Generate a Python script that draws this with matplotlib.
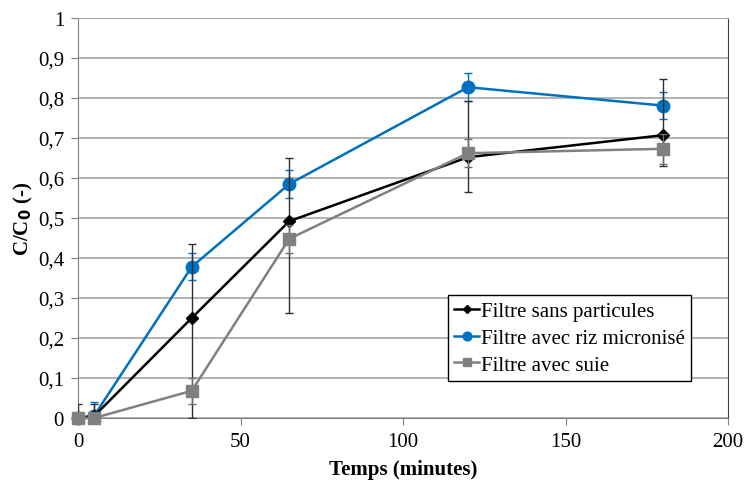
import matplotlib
matplotlib.use("Agg")
import matplotlib.pyplot as plt
from matplotlib.ticker import FuncFormatter

plt.rcParams['font.family'] = ['Liberation Serif', 'DejaVu Serif']

time = [0, 5, 35, 65, 120, 180]
sans = [0, 0.005, 0.25, 0.492, 0.652, 0.707]
sans_err_low = [0, 0, 0.25, 0.23, 0.086, 0.077]
sans_err_up = [0.035, 0.03, 0.185, 0.157, 0.14, 0.14]
riz = [0, 0.006, 0.378, 0.585, 0.827, 0.781]
riz_err = [0, 0.035, 0.034, 0.035, 0.035, 0.034]
suie = [0, 0, 0.068, 0.448, 0.662, 0.673]
suie_err = [0, 0, 0.033, 0.035, 0.035, 0.037]

labels = ["Filtre sans particules", "Filtre avec riz micronisé", "Filtre avec suie"]

fig = plt.figure(figsize=(7.48, 4.81), dpi=100)
ax = fig.add_axes([78/748, 1-419/481, 650/748, 400/481])

e1 = ax.errorbar(time, sans, yerr=[sans_err_low, sans_err_up], color='black', marker='D',
                 markersize=6, linewidth=1.8, ecolor='#303030', elinewidth=1.0, capsize=3,
                 capthick=1.0, zorder=4)
e2 = ax.errorbar(time, riz, yerr=riz_err, color='#0070C0', marker='o',
                 markersize=9, linewidth=1.8, ecolor='#0070C0', elinewidth=1.0, capsize=3,
                 capthick=1.0, zorder=3)
e3 = ax.errorbar(time, suie, yerr=suie_err, color='#808080', marker='s',
                 markersize=9, linewidth=1.8, ecolor='#707070', elinewidth=1.0, capsize=3,
                 capthick=1.0, zorder=5)
for e in (e1, e2, e3):
    e[0].set_clip_on(False)

ax.set_xlim(0, 200)
ax.set_ylim(0, 1)
ax.set_xticks([0, 50, 100, 150, 200])
ax.set_yticks([i/10 for i in range(11)])
ax.yaxis.set_major_formatter(FuncFormatter(lambda v, p: ("%g" % round(v, 1)).replace('.', ',')))
ax.grid(axis='y', color='#a6a6a6', linewidth=1.2)
ax.set_axisbelow(True)
ax.tick_params(axis='both', direction='out', length=5, color='#808080', labelsize=15, pad=5)
for s in ['left', 'bottom']:
    ax.spines[s].set_color('#808080')
ax.spines['right'].set_color('#404040')
ax.spines['top'].set_color('#a6a6a6')

ax.set_xlabel("Temps (minutes)", fontsize=15, fontweight='bold', labelpad=6)
ax.set_ylabel("C/C$_\\mathbf{0}$ (-)", fontsize=15, fontweight='bold', labelpad=2)

leg = ax.legend([e1[0], e2[0], e3[0]], labels,
                loc='lower left', bbox_to_anchor=((448-78)/650, (419-382)/400),
                fontsize=15, frameon=True, fancybox=False, edgecolor='black', framealpha=1,
                handlelength=1.2, handletextpad=0.1, borderpad=0.3, labelspacing=0.35,
                borderaxespad=0, markerscale=0.7)
leg.get_frame().set_linewidth(1.0)
leg.set_zorder(10)

fig.savefig("out.png", dpi=100)
